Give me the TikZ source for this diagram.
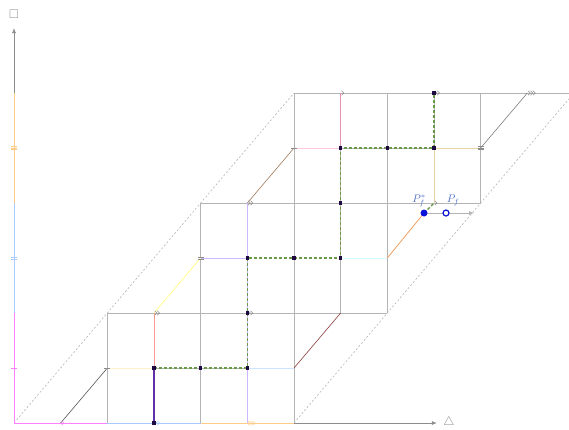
\documentclass[tikz,border=0pt]{standalone}
\usepackage{amssymb}
\usetikzlibrary{arrows.meta}
\definecolor{gridc}{HTML}{B4B4B4}
\definecolor{axisc}{HTML}{8C8C8C}
\definecolor{magc}{HTML}{FF80FF}
\definecolor{bluc}{HTML}{A8CCFF}
\definecolor{orac}{HTML}{FFCC88}
\definecolor{pathc}{HTML}{6A9A48}
\definecolor{dotc}{HTML}{1E0A40}
\definecolor{purc}{HTML}{6030A8}
\definecolor{lilc}{HTML}{CDB8FF}
\definecolor{redc}{HTML}{FF9A9A}
\definecolor{creamc}{HTML}{FFF0CC}
\definecolor{lbluec}{HTML}{CCE4FF}
\definecolor{cyanc}{HTML}{D4FFFF}
\definecolor{pinkc}{HTML}{FFC8E0}
\definecolor{pinkv}{HTML}{E890B0}
\definecolor{tanc}{HTML}{E8D4A0}
\definecolor{yelc}{HTML}{FFFF90}
\definecolor{orgd}{HTML}{F0A060}
\definecolor{brnc}{HTML}{A07858}
\definecolor{dredc}{HTML}{8B3A3A}
\definecolor{dgrayc}{HTML}{555555}
\definecolor{ptc}{HTML}{0A14D8}
\definecolor{labc}{HTML}{5070C8}
\newcommand{\mychev}[3]{\foreach \k in {1,...,#1}{\draw[#2,line width=0.5pt,shift={(#3)}] ({\k*2.4pt-1.6pt},2.2pt) -- ({\k*2.4pt+0.6pt},0pt) -- ({\k*2.4pt-1.6pt},-2.2pt);}}
\newcommand{\mytick}[3]{\foreach \k in {1,...,#1}{\draw[#2,line width=0.5pt,shift={(#3)}] (-3pt,{(\k-(#1+1)/2)*1.6pt}) -- (3pt,{(\k-(#1+1)/2)*1.6pt});}}
\begin{document}
\begin{tikzpicture}[x=46.667pt,y=55pt,
  gridline/.style={draw=gridc,line width=0.6pt},
  colline/.style={line width=0.8pt},
  pathline/.style={draw=pathc,line width=1.4pt,dash pattern=on 3pt off 2pt},
  dotnode/.style={fill=dotc,inner sep=0pt,minimum size=3.2pt,rectangle},
  diag/.style={draw=gridc,line width=0.6pt,dash pattern=on 2pt off 2pt}]
\useasboundingbox (-14pt,-6pt) rectangle (555pt,423pt);
% dashed boundary diagonals
\draw[diag] (0,0) -- (6,6);
\draw[diag] (6,0) -- (12,6);
% grid lines block A
\draw[gridline] (2,0) -- (2,2) (4,0) -- (4,2) (6,0) -- (6,6);
\draw[gridline] (2,2) -- (8,2);
\draw[gridline] (3,1) -- (5,1);
% block B
\draw[gridline] (4,2) -- (4,4) (7,2) -- (7,5) (8,2) -- (8,6);
\draw[gridline] (4,4) -- (10,4);
% block C
\draw[gridline] (10,4) -- (10,6);
\draw[gridline] (6,6) -- (11.9,6);
\draw[gridline] (7,5) -- (9,5) (9,5) -- (9,6);
% coloured segments
\draw[colline,creamc] (2,1) -- (3,1);
\draw[colline,lbluec] (5,1) -- (6,1);
\draw[colline,lilc] (4,3) -- (5,3);
\draw[colline,cyanc] (7,3) -- (8,3);
\draw[colline,pinkc] (6,5) -- (7,5);
\draw[colline,tanc] (9,5) -- (10,5);
\draw[colline,redc] (3,1) -- (3,2);
\draw[colline,lilc] (5,0) -- (5,4);
\draw[colline,pinkv] (7,5) -- (7,6);
\draw[colline,tanc] (9,4) -- (9,5);
% inner diagonals
\draw[colline,dgrayc,line width=0.6pt] (1,0) -- (2,1);
\draw[colline,dredc,line width=0.6pt] (6,1) -- (7,2);
\draw[colline,yelc] (3,2) -- (4,3);
\draw[colline,brnc,line width=0.6pt] (5,4) -- (6,5);
\draw[colline,gridc!70!black,line width=0.6pt] (10,5) -- (11,6);
% points
\coordinate (pfs) at (8.786,3.818);
\coordinate (pf) at (9.257,3.818);
\coordinate (pfend) at (9.86,3.818);
\draw[colline,orgd] (8,3) -- (pfs);
% axes
\draw[axisc,line width=0.6pt,-{Latex[length=5pt,width=4pt]}] (0,6) -- (0,7.18);
\draw[axisc,line width=0.6pt,-{Latex[length=5pt,width=4pt]}] (6,0) -- (9.06,0);
\draw[magc,line width=0.9pt] (0,0) -- (0,2);
\draw[bluc,line width=0.9pt] (0,2) -- (0,4);
\draw[orac,line width=0.9pt] (0,4) -- (0,6);
\draw[magc,line width=0.9pt] (0,0) -- (2,0);
\draw[bluc,line width=0.9pt] (2,0) -- (4,0);
\draw[orac,line width=0.9pt] (4,0) -- (6,0);
\mytick{1}{magc}{0,1}
\mytick{2}{bluc}{0,3}
\mytick{3}{orac}{0,5}
\mychev{1}{magc}{1,0}
\mychev{2}{bluc}{3,0}
\mychev{3}{orac}{5,0}
\node[text=axisc,inner sep=0pt,scale=1.25] (sq) at (0,7.44) {$\square$};
\node[text=axisc,inner sep=0pt,scale=1.25] (tri) at (9.32,0.02) {$\triangle$};
% path
\draw[purc,line width=2pt] (3,0) -- (3,1);
\draw[pathline] (3,1) -- (5,1) -- (5,3) -- (7,3) -- (7,5) -- (9,5) -- (9,6);
\draw[pathline] (pfs) -- (9,4);
% markers
\mychev{2}{axisc}{3,2}
\mychev{2}{axisc}{5,2}
\mychev{2}{axisc}{5,4}
\mychev{1}{axisc}{9,4}
\mychev{1}{axisc}{7,6}
\mychev{2}{axisc}{9,6}
\mychev{3}{axisc}{11,6}
\mytick{1}{axisc}{2,1}
\mytick{2}{axisc}{4,3}
\mytick{1}{axisc}{6,5}
\mytick{1}{axisc}{8,5}
\mytick{3}{axisc}{10,5}
% dots
\foreach \p [count=\n] in {(3,0),(3,1),(4,1),(5,1),(5,2),(5,3),(6,3),(7,3),(7,4),(7,5),(8,5),(9,5),(9,6)}
  \node[dotnode] (d\n) at \p {};
% P_f points
\draw[gridc,line width=0.8pt,-{Latex[length=5pt,width=4pt]}] (pfs) -- (pfend);
\node[circle,fill=ptc,inner sep=0pt,minimum size=7pt] (Pfs) at (pfs) {};
\node[circle,draw=ptc,fill=white,line width=1.2pt,inner sep=0pt,minimum size=6pt] (Pf) at (pf) {};
\node[text=labc,inner sep=0pt,scale=1.1] (lPfs) at (8.68,4.04) {$P_f^*$};
\node[text=labc,inner sep=0pt,scale=1.1] (lPf) at (9.41,4.04) {$P_f$};
\end{tikzpicture}
\end{document}
